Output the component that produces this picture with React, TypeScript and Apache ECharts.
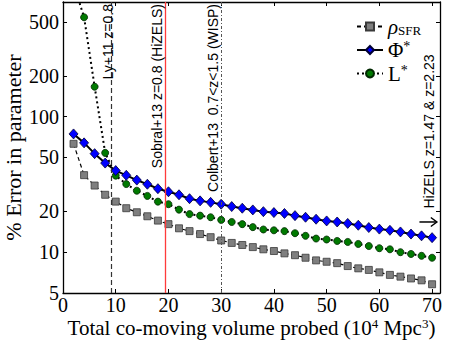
import React, { useEffect, useRef } from 'react';
import * as echarts from 'echarts';

// Total co-moving volume probed (10^4 Mpc^3)
const volume = [2, 4, 6, 8, 10, 12, 14, 16, 18, 20, 22, 24, 26, 28, 30, 32, 34, 36, 38, 40, 42, 44, 46, 48, 50, 52, 54, 56, 58, 60, 62, 64, 66, 68, 70];
// % error in parameter
const rhoSFR = [63, 37, 31, 26.5, 23.6, 21.1, 19.7, 18.4, 17.1, 16.1, 15.0, 14.3, 13.6, 12.9, 12.2, 11.7, 11.3, 10.9, 10.5, 10.2, 9.8, 9.5, 9.1, 8.7, 8.5, 8.3, 7.9, 7.6, 7.4, 7.1, 6.8, 6.6, 6.4, 6.2, 5.8];
const phiStar = [74.5, 64, 53.3, 45.4, 40, 36.9, 34, 31.7, 29.4, 27.9, 26.5, 24.8, 23.9, 23.3, 22.6, 21.7, 21.1, 20.5, 19.9, 19.6, 19.3, 18.6, 18.1, 17.5, 17.0, 16.7, 16.3, 15.8, 15.2, 14.8, 14.5, 14.1, 13.6, 13.2, 12.8];
const lStar = [950, 540, 166, 54, 36.7, 31.8, 28.4, 26.0, 23.6, 22.6, 20.6, 19.1, 18.6, 18.1, 17.3, 16.7, 16.1, 15.3, 14.7, 14.5, 14.3, 13.8, 13.2, 12.6, 12.4, 12.1, 11.9, 11.5, 11.1, 10.7, 10.5, 10.0, 9.7, 9.4, 9.1];

const xTicks = [0, 10, 20, 30, 40, 50, 60, 70];
const yTicks = [5, 10, 20, 50, 100, 200, 500];
const xRange = [0, 71.5];
const yRange = [5, 700];

// survey volumes (vertical reference lines)
const surveyNames = ['Ly+11 z=0.8', 'Sobral+13 z=0.8 (HiZELS)', 'Colbert+13  0.7<z<1.5 (WISP)'];
const surveyVolumes = [9.2, 19.3, 30];
const hizelsLabel = 'HiZELS z=1.47 & z=2.23';
const hizelsArrow = { from: 67.6, to: 70.9, level: 16.7, labelX: 69.4, labelY: 21 };

const serif = '"Liberation Serif", "Times New Roman", serif';
const sans = 'Liberation Sans';

const pairs = (ys: number[]) => volume.map((v, i) => [v, ys[i]]);

export default function App() {
  const ref = useRef<HTMLDivElement>(null);
  useEffect(() => {
    const chart = echarts.init(ref.current!, null, { renderer: 'svg' });
    const axisLine = { show: true, onZero: false, lineStyle: { color: '#000', width: 1.3 } };
    const tick = { show: true, inside: true, length: 4, lineStyle: { color: '#000', width: 1 } };
    const lineMarks = {
      silent: true,
      symbol: ['none', 'none'],
      label: { show: false },
      emphasis: { disabled: true },
      data: [
        { xAxis: surveyVolumes[0], lineStyle: { color: '#333', width: 1.2, type: [5, 3] } },
        { xAxis: surveyVolumes[1], lineStyle: { color: '#ff3b3b', width: 1.3, type: 'solid' } },
        { xAxis: surveyVolumes[2], lineStyle: { color: '#555', width: 1, type: [3, 2, 1, 2] } },
      ],
    };
    chart.setOption({
      animation: false,
      backgroundColor: '#fff',
      grid: { left: 63, right: 10, top: 2, bottom: 48, containLabel: false, outerBoundsMode: 'none' },
      legend: {
        orient: 'vertical',
        left: 356,
        top: 16,
        padding: 0,
        itemWidth: 26,
        itemHeight: 10,
        itemGap: 2.5,
        data: ['ρSFR', 'Φ*', 'L*'],
        formatter: (name: string) =>
          name === 'ρSFR' ? '{i|ρ}{sub|SFR}' : name === 'Φ*' ? 'Φ{sup|*}' : 'L{sup|*}',
        textStyle: {
          fontFamily: serif,
          fontSize: 21,
          color: '#000',
          rich: {
            i: { fontFamily: serif, fontSize: 21, fontStyle: 'italic', color: '#000' },
            sub: { fontFamily: serif, fontSize: 13, color: '#000', verticalAlign: 'bottom' },
            sup: { fontFamily: serif, fontSize: 14, color: '#000', verticalAlign: 'top' },
          },
        },
      },
      xAxis: [
        {
          type: 'value', min: xRange[0], max: xRange[1], position: 'bottom',
          axisLine, axisTick: { ...tick, customValues: xTicks }, splitLine: { show: false },
          axisLabel: { customValues: xTicks, fontFamily: serif, fontSize: 20, color: '#000', margin: 2 },
          name: 'Total co-moving volume probed (10{sup|4} Mpc{sup|3})',
          nameLocation: 'middle', nameGap: 24, nameMoveOverlap: false,
          nameTextStyle: {
            fontFamily: serif, fontSize: 21, color: '#000', verticalAlign: 'top',
            rich: { sup: { fontFamily: serif, fontSize: 13, color: '#000', verticalAlign: 'top' } },
          },
        },
        {
          type: 'value', min: xRange[0], max: xRange[1], position: 'top',
          axisLine, axisTick: { ...tick, customValues: xTicks }, splitLine: { show: false },
          axisLabel: { show: false },
        },
      ],
      yAxis: [
        {
          type: 'log', logBase: 10, min: yRange[0], max: yRange[1], position: 'left',
          axisLine, axisTick: { ...tick, customValues: yTicks }, minorTick: { show: false },
          splitLine: { show: false },
          axisLabel: { customValues: yTicks, fontFamily: serif, fontSize: 20, color: '#000', margin: 4 },
          name: '% Error in parameter', nameLocation: 'middle', nameGap: 39, nameMoveOverlap: false,
          nameTextStyle: { fontFamily: serif, fontSize: 22, color: '#000' },
        },
        {
          type: 'log', logBase: 10, min: yRange[0], max: yRange[1], position: 'right',
          axisLine, axisTick: { ...tick, customValues: yTicks }, minorTick: { show: false },
          splitLine: { show: false }, axisLabel: { show: false },
        },
      ],
      series: [
        {
          name: 'ρSFR', type: 'line', data: pairs(rhoSFR), xAxisIndex: 0, yAxisIndex: 0,
          symbol: 'rect', symbolSize: 7, clip: true,
          itemStyle: { color: '#7f7f7f', borderColor: '#3a3a3a', borderWidth: 0.8 },
          lineStyle: { color: '#000', width: 1.2, type: [4, 3] },
          emphasis: { disabled: true }, z: 3,
          markLine: lineMarks,
        },
        {
          name: 'Φ*', type: 'line', data: pairs(phiStar), xAxisIndex: 0, yAxisIndex: 0,
          symbol: 'diamond', symbolSize: [9, 10], clip: true,
          itemStyle: { color: '#0000ff', borderColor: '#000033', borderWidth: 0.8 },
          lineStyle: { color: '#000', width: 2, type: 'solid' },
          emphasis: { disabled: true }, z: 4,
        },
        {
          name: 'L*', type: 'line', data: pairs(lStar), xAxisIndex: 0, yAxisIndex: 0,
          symbol: 'circle', symbolSize: 7, clip: true,
          itemStyle: { color: '#007a00', borderColor: '#002800', borderWidth: 0.8 },
          lineStyle: { color: '#000', width: 2, type: [2, 3] },
          emphasis: { disabled: true }, z: 3,
        },
      ],
    });

    const px = (x: number, y: number) => chart.convertToPixel({ gridIndex: 0 }, [x, y]) as number[];
    const topY = px(0, yRange[1])[1] + 2;
    const offsets = [-4, -8, -8];
    const textStyle = (text: string, align: string) => ({
      text, fill: '#000', fontFamily: sans, fontSize: 14,
      align, textAlign: align, verticalAlign: 'middle', textVerticalAlign: 'middle',
    });
    const graphics: any[] = surveyNames.map((name, i) => ({
      type: 'text', silent: true, z: 10,
      x: px(surveyVolumes[i], 10)[0] + offsets[i], y: topY, rotation: Math.PI / 2,
      style: textStyle(name, 'right'),
    }));
    const hl = px(hizelsArrow.labelX, hizelsArrow.labelY);
    graphics.push({
      type: 'text', silent: true, z: 10, x: hl[0], y: hl[1], rotation: Math.PI / 2,
      style: textStyle(hizelsLabel, 'left'),
    });
    const a0 = px(hizelsArrow.from, hizelsArrow.level);
    const a1 = px(hizelsArrow.to, hizelsArrow.level);
    graphics.push({
      type: 'line', silent: true, z: 10,
      shape: { x1: a0[0], y1: a0[1], x2: a1[0] - 1, y2: a1[1] },
      style: { stroke: '#000', lineWidth: 1.5 },
    });
    graphics.push({
      type: 'polyline', silent: true, z: 10,
      shape: { points: [[a1[0] - 6, a1[1] - 4.5], [a1[0], a1[1]], [a1[0] - 6, a1[1] + 4.5]] },
      style: { stroke: '#000', lineWidth: 1.5, fill: 'none' },
    });
    chart.setOption({ graphic: graphics });
    return () => chart.dispose();
  }, []);
  return <div ref={ref} style={{ position: 'absolute', left: 0, top: 0, width: 450, height: 341 }} />;
}
